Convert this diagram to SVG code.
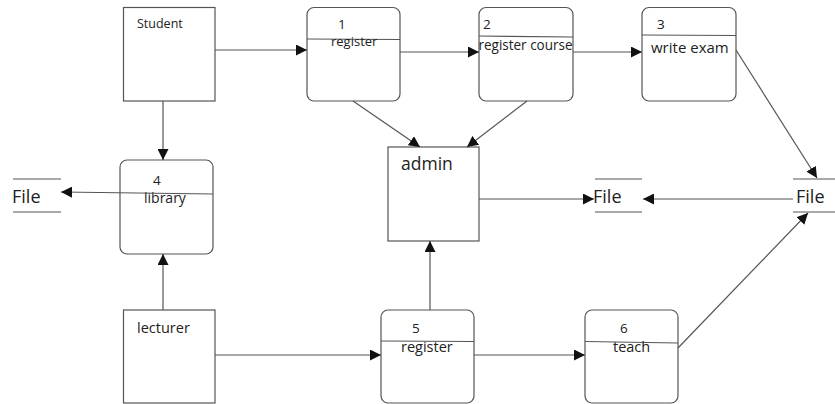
<svg xmlns="http://www.w3.org/2000/svg" width="835" height="404" viewBox="0 0 835 404">
  <style>
    .box { fill: #fff; stroke: #555; stroke-width: 1.2; }
    .ln { fill: none; stroke: #555; stroke-width: 1.2; }
    .t { font-family: "Open Sans", "Liberation Sans", sans-serif; fill: #222; }
  </style>
  <defs>
    <marker id="arr" viewBox="0 0 10 10" refX="10" refY="5" markerWidth="11" markerHeight="11" markerUnits="userSpaceOnUse" orient="auto">
      <path d="M0,0 L10,5 L0,10 Z" fill="#111"/>
    </marker>
  </defs>
  <rect width="835" height="404" fill="#fff"/>

  <!-- external entities -->
  <g id="student">
    <rect class="box" x="123.5" y="7.5" width="91.5" height="93.5"/>
    <text class="t" x="137" y="28" font-size="12.5">Student</text>
  </g>
  <g id="lecturer">
    <rect class="box" x="123.5" y="310" width="91.5" height="93"/>
    <text class="t" x="137" y="333" font-size="14.5">lecturer</text>
  </g>
  <g id="admin">
    <rect class="box" x="388" y="147" width="91" height="94"/>
    <text class="t" x="401" y="170" font-size="17.5">admin</text>
  </g>

  <!-- processes -->
  <g id="p1">
    <rect class="box" x="307" y="7.5" width="93" height="93.5" rx="7"/>
    <line class="ln" x1="307" y1="39" x2="400" y2="39.5"/>
    <text class="t" x="338" y="29" font-size="13.5">1</text>
    <text class="t" x="331" y="46" font-size="13">register</text>
  </g>
  <g id="p2">
    <rect class="box" x="479" y="7.5" width="94" height="93.5" rx="7"/>
    <line class="ln" x1="479" y1="36" x2="573" y2="37"/>
    <text class="t" x="483" y="29" font-size="13.5">2</text>
    <text class="t" x="478.5" y="50" font-size="14" textLength="94" lengthAdjust="spacingAndGlyphs">register course</text>
  </g>
  <g id="p3">
    <rect class="box" x="642" y="7.5" width="94" height="93.5" rx="7"/>
    <line class="ln" x1="642" y1="35" x2="736" y2="35.5"/>
    <text class="t" x="657" y="29" font-size="13.5">3</text>
    <text class="t" x="651" y="53" font-size="15">write exam</text>
  </g>
  <g id="p4">
    <rect class="box" x="120" y="160" width="93" height="94" rx="7"/>
    <text class="t" x="153" y="185" font-size="13.5">4</text>
    <text class="t" x="144" y="203" font-size="14">library</text>
  </g>
  <g id="p5">
    <rect class="box" x="381" y="310" width="93" height="93" rx="7"/>
    <line class="ln" x1="381" y1="341" x2="474" y2="341.5"/>
    <text class="t" x="412" y="333" font-size="13.5">5</text>
    <text class="t" x="401" y="352" font-size="14.5">register</text>
  </g>
  <g id="p6">
    <rect class="box" x="585" y="310" width="93" height="93" rx="7"/>
    <line class="ln" x1="585" y1="341.5" x2="678" y2="343"/>
    <text class="t" x="620" y="333" font-size="13.5">6</text>
    <text class="t" x="613" y="352" font-size="14.5">teach</text>
  </g>

  <!-- data stores -->
  <g id="file-left">
    <line class="ln" x1="13" y1="179" x2="61" y2="179"/>
    <line class="ln" x1="13" y1="212" x2="61" y2="212"/>
    <text class="t" x="12" y="203" font-size="18">File</text>
  </g>
  <g id="file-mid">
    <line class="ln" x1="595" y1="179" x2="642" y2="179"/>
    <line class="ln" x1="595" y1="212" x2="642" y2="212"/>
    <text class="t" x="593" y="203" font-size="18">File</text>
  </g>
  <g id="file-right">
    <line class="ln" x1="793" y1="179" x2="835" y2="179"/>
    <line class="ln" x1="793" y1="212" x2="835" y2="212"/>
    <text class="t" x="796" y="203" font-size="18">File</text>
  </g>

  <!-- data flows -->
  <g id="flows" class="ln">
    <line class="ln" x1="215" y1="50" x2="307" y2="50" marker-end="url(#arr)"/>
    <line class="ln" x1="400" y1="52" x2="479" y2="52" marker-end="url(#arr)"/>
    <line class="ln" x1="573" y1="52" x2="642" y2="52" marker-end="url(#arr)"/>
    <line class="ln" x1="736" y1="50" x2="817" y2="178" marker-end="url(#arr)"/>
    <line class="ln" x1="353" y1="101" x2="420" y2="147" marker-end="url(#arr)"/>
    <line class="ln" x1="527" y1="101" x2="467" y2="147" marker-end="url(#arr)"/>
    <line class="ln" x1="163" y1="101" x2="163" y2="160" marker-end="url(#arr)"/>
    <line class="ln" x1="163" y1="310" x2="163" y2="254" marker-end="url(#arr)"/>
    <line class="ln" x1="213" y1="194" x2="61" y2="192" marker-end="url(#arr)"/>
    <line class="ln" x1="479" y1="199" x2="594" y2="199" marker-end="url(#arr)"/>
    <line class="ln" x1="793" y1="199" x2="643" y2="199" marker-end="url(#arr)"/>
    <line class="ln" x1="215" y1="355" x2="381" y2="355" marker-end="url(#arr)"/>
    <line class="ln" x1="474" y1="355" x2="585" y2="355" marker-end="url(#arr)"/>
    <line class="ln" x1="430" y1="310" x2="430" y2="241" marker-end="url(#arr)"/>
    <line class="ln" x1="678" y1="348" x2="808" y2="213" marker-end="url(#arr)"/>
  </g>
</svg>
